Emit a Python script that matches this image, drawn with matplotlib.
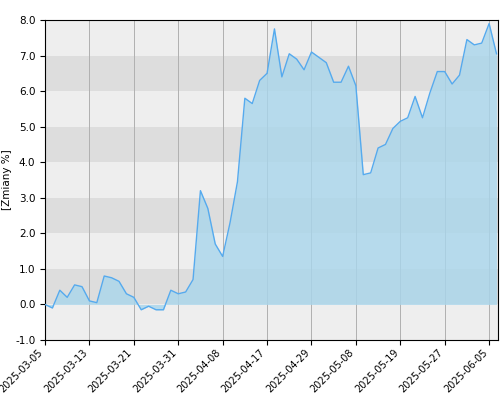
import matplotlib
matplotlib.use("Agg")
import matplotlib.pyplot as plt
import numpy as np

# values, one per trading day
values = [0.0, -0.1, 0.4, 0.2, 0.55, 0.5, 0.1, 0.05, 0.8, 0.75, 0.65, 0.3,
          0.2, -0.15, -0.05, -0.15, -0.15, 0.4, 0.3, 0.35, 0.7, 3.2, 2.7, 1.7,
          1.35, 2.3, 3.45, 5.8, 5.65, 6.3, 6.5, 7.75, 6.4, 7.05, 6.9, 6.6,
          7.1, 6.95, 6.8, 6.25, 6.25, 6.7, 6.15, 3.65, 3.7, 4.4, 4.5, 4.95,
          5.15, 5.25, 5.85, 5.25, 5.95, 6.55, 6.55, 6.2, 6.45, 7.45, 7.3,
          7.35, 7.9, 7.05]
tick_labels = ["2025-03-05", "2025-03-13", "2025-03-21", "2025-03-31",
               "2025-04-08", "2025-04-17", "2025-04-29", "2025-05-08",
               "2025-05-19", "2025-05-27", "2025-06-05"]
tick_step = 6

x = np.arange(len(values))
fig = plt.figure(figsize=(5, 4), dpi=100)
ax = fig.add_axes([0.09, 0.15, 0.906, 0.80])

for i, lo in enumerate(range(-1, 8)):
    ax.axhspan(lo, lo + 1, color="#eeeeee" if i % 2 == 0 else "#dddddd", zorder=0, lw=0)
for k in range(len(tick_labels)):
    ax.axvline(k * tick_step, color="#b0b0b0", lw=0.7, zorder=1)

ax.fill_between(x, values, 0, color="#a9d6ec", alpha=0.8, zorder=2, lw=0)
ax.plot(x, values, color="#55aaee", lw=1, zorder=3)

ax.set_xlim(0, len(values) - 0.8)
ax.set_ylim(-1, 8)
ax.set_yticks(np.arange(-1, 9))
ax.set_yticklabels([f"{v:.1f}" for v in np.arange(-1, 9)], fontsize=7.5)
ax.set_xticks([k * tick_step for k in range(len(tick_labels))])
ax.set_xticklabels(tick_labels, rotation=45, ha="right", fontsize=7)
ax.tick_params(axis="x", pad=2)
ax.set_ylabel("[Zmiany %]", fontsize=7.5, labelpad=2)
for s in ax.spines.values():
    s.set_color("black")
    s.set_linewidth(0.8)

fig.savefig("out.png")
